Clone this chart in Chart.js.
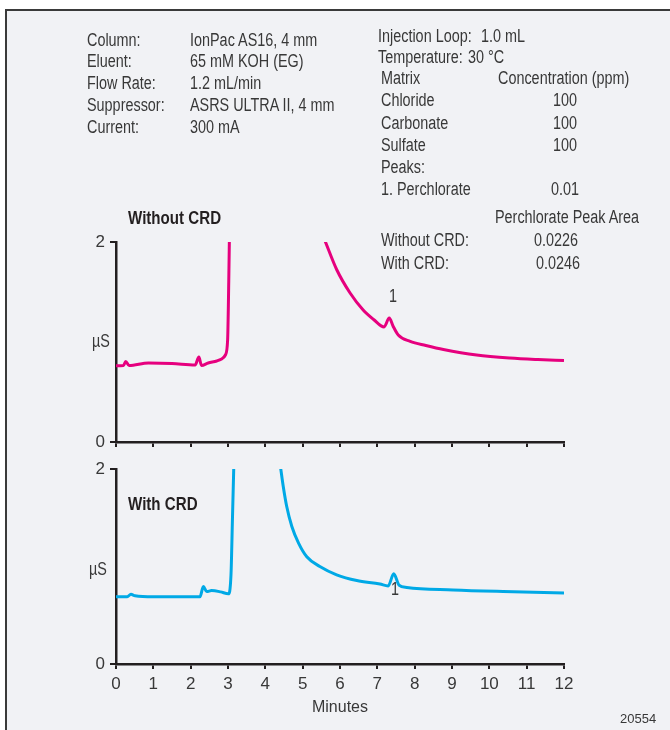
<!DOCTYPE html>
<html>
<head>
<meta charset="utf-8">
<script src="https://cdn.jsdelivr.net/npm/chart.js@4.4.1/dist/chart.umd.min.js"></script>
<style>
  body { margin: 0; width: 670px; height: 730px; overflow: hidden; background: #fff;
         font-family: "Liberation Sans", Arial, sans-serif; color: #383838; }
  #frame { position: absolute; left: 5px; top: 9px; width: 700px; height: 760px;
           border-left: 2px solid #3a3a3a; border-top: 2px solid #3a3a3a; background: #f1f2f5; }
  canvas { position: absolute; left: 0; top: 0; }
  .t { position: absolute; white-space: nowrap; font-size: 18px; line-height: 1.2;
       transform-origin: left center; transform: translateY(-50%) scaleX(0.8); }
  .c { transform-origin: center center; transform: translate(-50%, -50%) scaleX(0.8); }
  .b { font-weight: bold; font-size: 18px; color: #231f20; transform: translateY(-50%) scaleX(0.84); }
</style>
</head>
<body>
<div id="frame"></div>
<canvas id="topChart" width="670" height="730"></canvas>
<canvas id="botChart" width="670" height="730"></canvas>

<!-- conditions -->
<div class="t" style="left:87px;top:41px">Column:</div>
<div class="t" style="left:190px;top:41px">IonPac AS16, 4 mm</div>
<div class="t" style="left:87px;top:62px">Eluent:</div>
<div class="t" style="left:190px;top:62px">65 mM KOH (EG)</div>
<div class="t" style="left:87px;top:84px">Flow Rate:</div>
<div class="t" style="left:190px;top:84px">1.2 mL/min</div>
<div class="t" style="left:87px;top:106px">Suppressor:</div>
<div class="t" style="left:190px;top:106px">ASRS ULTRA II, 4 mm</div>
<div class="t" style="left:87px;top:128px">Current:</div>
<div class="t" style="left:190px;top:128px">300 mA</div>

<div class="t" style="left:378px;top:37px">Injection Loop:</div>
<div class="t" style="left:481px;top:37px">1.0 mL</div>
<div class="t" style="left:378px;top:58px">Temperature:</div>
<div class="t" style="left:468px;top:58px">30 °C</div>
<div class="t" style="left:381px;top:79px">Matrix</div>
<div class="t" style="left:498px;top:79px">Concentration (ppm)</div>
<div class="t" style="left:381px;top:101px">Chloride</div>
<div class="t c" style="left:565px;top:101px">100</div>
<div class="t" style="left:381px;top:124px">Carbonate</div>
<div class="t c" style="left:565px;top:124px">100</div>
<div class="t" style="left:381px;top:146px">Sulfate</div>
<div class="t c" style="left:565px;top:146px">100</div>
<div class="t" style="left:381px;top:168px">Peaks:</div>
<div class="t" style="left:381px;top:190px">1. Perchlorate</div>
<div class="t c" style="left:565px;top:190px">0.01</div>
<div class="t" style="left:495px;top:218px">Perchlorate Peak Area</div>
<div class="t" style="left:381px;top:241px">Without CRD:</div>
<div class="t c" style="left:556px;top:241px">0.0226</div>
<div class="t" style="left:381px;top:264px">With CRD:</div>
<div class="t c" style="left:558px;top:264px">0.0246</div>

<!-- trace labels -->
<div class="t b" style="left:128px;top:219px">Without CRD</div>
<div class="t b" style="left:128px;top:505px">With CRD</div>
<div class="t c" style="left:101px;top:342px">µS</div>
<div class="t c" style="left:98px;top:570px">µS</div>
<div class="t c" style="left:393px;top:297px">1</div>
<div class="t c" style="left:395px;top:590px">1</div>
<div class="t" style="left:620px;top:719px;font-size:13px;transform:translateY(-50%)">20554</div>

<script>
//------------------------------------------------------
// DATA (minutes / µS)
//------------------------------------------------------
const xTicks = [0, 1, 2, 3, 4, 5, 6, 7, 8, 9, 10, 11, 12];

// Without CRD (null = trace off scale)
const topTimes = [0, 0.2, 0.26, 0.35, 0.87, 1.5, 2.12, 2.22, 2.29, 2.47, 2.7, 2.83, 2.93, 2.99, 3.02, 3.04,
                  4.3,
                  5.6, 5.91, 6.27, 6.62, 6.9, 7.18, 7.32, 7.42, 7.56, 7.88, 8.3, 8.77, 9.66, 10.55, 11.3, 12.0];
const topValues = [0.762, 0.765, 0.805, 0.765, 0.79, 0.785, 0.77, 0.85, 0.765, 0.79, 0.81, 0.83, 0.87, 1.02, 1.6, 2.1,
                   null,
                   2.01, 1.725, 1.49, 1.32, 1.225, 1.15, 1.24, 1.16, 1.07, 1.006, 0.965, 0.925, 0.87, 0.84, 0.825, 0.815];

// With CRD
const botTimes = [0, 0.3, 0.4, 0.51, 1.0, 1.8, 2.25, 2.34, 2.43, 2.56, 2.8, 3.01, 3.08, 3.12, 3.16,
                  3.8,
                  4.41, 4.48, 4.57, 4.71, 4.89, 5.11, 5.46, 5.91, 6.45, 7.07, 7.29, 7.44, 7.58, 7.79, 9.03, 10.37, 12.0];
const botValues = [0.69, 0.69, 0.715, 0.70, 0.69, 0.69, 0.69, 0.795, 0.743, 0.753, 0.74, 0.72, 0.915, 1.5, 2.1,
                   null,
                   2.01, 1.82, 1.62, 1.41, 1.24, 1.10, 1.00, 0.915, 0.856, 0.82, 0.80, 0.925, 0.81, 0.785, 0.76, 0.743, 0.727];

const PINK = "#e6007e";
const CYAN = "#00a9e6";
const AXIS = "#231f20";
const FONT = "'Liberation Sans', Arial, sans-serif";

//------------------------------------------------------
// BUILD ONE TRACE PANEL
//------------------------------------------------------
function makeTrace(id, times, values, color, area, showLabels) {
  const pts = times.map((t, i) => ({ x: t, y: values[i] }));
  const xHeight = showLabels ? 57 : 10;

  return new Chart(document.getElementById(id), {
    type: "line",
    data: {
      datasets: [{
        data: pts,
        borderColor: color,
        borderWidth: 3,
        pointRadius: 0,
        cubicInterpolationMode: "monotone",
        spanGaps: false
      }]
    },
    options: {
      responsive: false,
      animation: false,
      events: [],
      layout: {
        padding: { left: 0, right: 670 - area.right, top: area.top, bottom: 730 - area.bottom - xHeight }
      },
      plugins: { legend: { display: false }, tooltip: { enabled: false } },
      scales: {
        x: {
          type: "linear", min: 0, max: 12,
          afterBuildTicks: axis => { axis.ticks = xTicks.map(v => ({ value: v })); },
          afterFit: axis => { axis.height = xHeight; },
          grid: { drawOnChartArea: false, drawTicks: true, tickLength: 5, color: AXIS, lineWidth: 2 },
          border: { color: AXIS, width: 2.5 },
          ticks: {
            display: showLabels, padding: 5, color: "#383838",
            font: { family: FONT, size: 17 }
          },
          title: {
            display: showLabels, text: "Minutes", color: "#383838",
            font: { family: FONT, size: 16 }
          }
        },
        y: {
          type: "linear", min: 0, max: 2,
          afterBuildTicks: axis => { axis.ticks = [{ value: 0 }, { value: 2 }]; },
          afterFit: axis => { axis.width = area.left; },
          grid: { drawOnChartArea: false, drawTicks: true, tickLength: 6, color: AXIS, lineWidth: 2 },
          border: { color: AXIS, width: 2.5 },
          ticks: { padding: 5, color: "#383838", font: { family: FONT, size: 17 } }
        }
      }
    }
  });
}

makeTrace("topChart", topTimes, topValues, PINK, { left: 116, right: 564, top: 242, bottom: 442 }, false);
makeTrace("botChart", botTimes, botValues, CYAN, { left: 116, right: 564, top: 469, bottom: 664 }, true);
</script>
</body>
</html>
